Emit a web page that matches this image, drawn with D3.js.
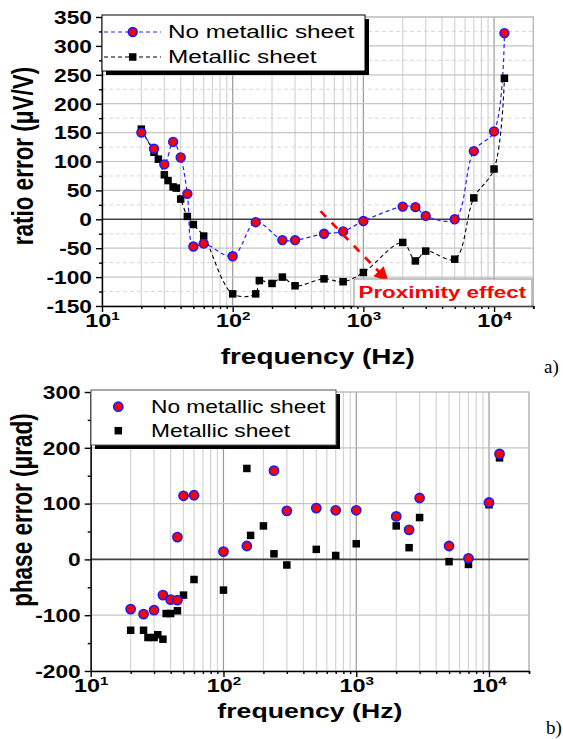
<!DOCTYPE html>
<html>
<head>
<meta charset="utf-8">
<script src="https://d3js.org/d3.v7.min.js"></script>
<style>
  body { margin: 0; background: #fff; }
  svg { display: block; font-family: "Liberation Sans", Arial, sans-serif; }
</style>
</head>
<body>
<div id="chart"></div>
<script>
// ---- data ----
// a) ratio error, µV/V
const freqRatioNo  = [20, 25, 30, 35, 40, 45, 50, 60, 100, 150, 240, 300, 500, 700, 1000, 2000, 2500, 3000, 5000, 7000, 10000, 12000];
const ratioNo      = [150, 122, 95, 134, 107, 44, -47, -42, -64, -5, -36, -36, -25, -21, -3, 22, 21, 6, 0, 118, 152, 322];
const freqRatioMet = [20, 25, 27, 30, 32, 35, 37, 40, 45, 50, 60, 100, 150, 160, 200, 240, 300, 500, 700, 1000, 2000, 2500, 3000, 5000, 7000, 10000, 12000];
const ratioMet     = [156, 116, 104, 77, 67, 56, 54, 35, 5, -9, -29, -129, -129, -106, -111, -100, -115, -103, -108, -92, -40, -72, -55, -69, 37, 87, 244];

// b) phase error, µrad
const freqPhaseNo  = [20, 25, 30, 35, 40, 45, 45, 50, 60, 100, 150, 240, 300, 500, 700, 1000, 2000, 2500, 3000, 5000, 7000, 10000, 12000];
const phaseNo      = [-89, -98, -91, -64, -72, -73, 40, 114, 115, 14, 24, 159, 87, 92, 88, 88, 77, 53, 110, 24, 2, 102, 189];
const freqPhaseMet = [20, 25, 27, 30, 32, 35, 37, 40, 45, 50, 60, 100, 150, 160, 200, 240, 300, 500, 700, 1000, 2000, 2500, 3000, 5000, 7000, 10000, 12000];
const phaseMet     = [-127, -127, -140, -140, -135, -143, -97, -97, -92, -64, -36, -55, 163, 43, 60, 10, -10, 18, 7, 28, 60, 21, 75, -4, -9, 98, 182];

const seriesNames = ["No metallic sheet", "Metallic sheet"];
const decades = [10, 100, 1000, 10000];
const ratioTicks = d3.range(-150, 351, 50);
const ratioMinor = d3.range(-125, 351, 50);
const phaseTicks = d3.range(-200, 301, 100);
const phaseMinor = d3.range(-150, 301, 100);
// arrow of the "Proximity effect" note, in data units (Hz, µV/V)
const arrowFrom = [470, 14];
const arrowTo = [1530, -106];

const W = 563, H = 739, SX = 1.3;   // picture is stretched horizontally

const svg = d3.select("#chart").append("svg")
    .attr("width", W).attr("height", H);

const defs = svg.append("defs");
defs.append("marker")
    .attr("id", "arrowRed")
    .attr("viewBox", "0 0 10 10")
    .attr("refX", 9).attr("refY", 5)
    .attr("markerWidth", 6).attr("markerHeight", 5.5)
    .attr("markerUnits", "strokeWidth")
    .attr("orient", "auto")
  .append("path")
    .attr("d", "M0,0 L10,5 L0,10 z")
    .attr("fill", "#ff0000");

// widen text around its anchor point
function stretch(sel, k) {
    sel.each(function() {
        const x = +(this.getAttribute("x") || 0);
        d3.select(this).attr("transform", `translate(${x},0) scale(${k},1) translate(${-x},0)`);
    });
}

const minorFreqs = [];
decades.forEach(d => {
    for (let k = 1; k <= 9; k++) if (k * d <= 20000) minorFreqs.push(k * d);
});
minorFreqs.push(20000);

function drawPanel(o) {
    const x = d3.scaleLog().domain([10, 20000]).range([o.left, o.right]);
    const y = d3.scaleLinear().domain(o.yDomain).range([o.bottom, o.top]);
    const g = svg.append("g");

    // vertical grid
    g.append("g").selectAll("line")
        .data(minorFreqs)
        .join("line")
        .attr("x1", d => x(d)).attr("x2", d => x(d))
        .attr("y1", o.top).attr("y2", o.bottom)
        .attr("stroke", d => decades.includes(d) ? "#9a9a9a" : "#d4d4d4")
        .attr("stroke-width", 1.2);

    // horizontal minor grid (dashed)
    if (o.minorGrid) {
        g.append("g").selectAll("line")
            .data(o.yMinor)
            .join("line")
            .attr("x1", o.left).attr("x2", o.right)
            .attr("y1", d => y(d)).attr("y2", d => y(d))
            .attr("stroke", "#d8d8d8")
            .attr("stroke-dasharray", "4,3");
    }
    // horizontal major grid
    g.append("g").selectAll("line")
        .data(o.yTicks.filter(d => d !== 0))
        .join("line")
        .attr("x1", o.left).attr("x2", o.right)
        .attr("y1", d => y(d)).attr("y2", d => y(d))
        .attr("stroke", "#c4c4c4")
        .attr("stroke-width", 1.2);

    // zero line
    g.append("line")
        .attr("x1", o.left).attr("x2", o.right)
        .attr("y1", y(0)).attr("y2", y(0))
        .attr("stroke", "#404040").attr("stroke-width", 1.6);

    // frame (top/right)
    g.append("path")
        .attr("d", `M${o.left},${o.top}H${o.right}V${o.bottom}`)
        .attr("fill", "none").attr("stroke", "#b8b8b8").attr("stroke-width", 1.2);

    // axes
    const xMinor = g.append("g")
        .attr("transform", `translate(0,${o.bottom})`)
        .call(d3.axisBottom(x).tickValues(minorFreqs.filter(d => !decades.includes(d))).tickSize(3).tickSizeOuter(0).tickFormat(""));
    xMinor.select(".domain").remove();
    const xAxis = g.append("g")
        .attr("transform", `translate(0,${o.bottom})`)
        .call(d3.axisBottom(x).tickValues(decades).tickSize(6).tickSizeOuter(0).tickPadding(5));
    xAxis.selectAll("text").each(function(d) {
        const t = d3.select(this).text("");
        t.append("tspan").text("10").attr("font-size", o.xTickSize);
        t.append("tspan").text(Math.round(Math.log10(d))).attr("font-size", o.xTickSize * 0.65).attr("dy", -o.xTickSize * 0.42);
    });

    const yMinorAxis = g.append("g")
        .attr("transform", `translate(${o.left},0)`)
        .call(d3.axisLeft(y).tickValues(o.yMinor).tickSize(3).tickSizeOuter(0).tickFormat(""));
    yMinorAxis.select(".domain").remove();
    const yAxis = g.append("g")
        .attr("transform", `translate(${o.left},0)`)
        .call(d3.axisLeft(y).tickValues(o.yTicks).tickSize(6).tickSizeOuter(0).tickPadding(4)
            .tickFormat(d => String(d)));

    g.selectAll(".tick line, .domain").attr("stroke", "#000").attr("stroke-width", 1.4);
    xAxis.selectAll("text").attr("font-weight", "bold").attr("fill", "#000")
        .attr("dy", o.xTickDy);
    yAxis.selectAll("text").attr("font-weight", "bold").attr("fill", "#000")
        .attr("font-size", o.yTickSize).attr("dy", "0.36em");
    xAxis.selectAll("text").call(stretch, SX);
    yAxis.selectAll("text").call(stretch, SX);

    // axis titles
    g.append("text")
        .attr("x", (o.left + o.right) / 2)
        .attr("y", o.xTitleY)
        .attr("text-anchor", "middle")
        .attr("font-weight", "bold")
        .attr("font-size", o.xTitleSize)
        .text("frequency (Hz)")
        .call(stretch, SX);

    g.append("g")
        .attr("transform", `translate(${o.yTitleX},${o.yTitleCY}) scale(${SX},1) rotate(-90)`)
      .append("text")
        .attr("text-anchor", "middle")
        .attr("font-weight", "bold")
        .attr("font-size", o.yTitleSize)
        .text(o.yTitle);

    return { x, y, g };
}

function drawCircles(g, x, y, fx, vy, r) {
    g.append("g").selectAll("circle")
        .data(fx.map((f, i) => [f, vy[i]]))
        .join("circle")
        .attr("cx", d => x(d[0])).attr("cy", d => y(d[1]))
        .attr("r", r)
        .attr("fill", "#ff0000").attr("stroke", "#1a1aff").attr("stroke-width", 1.6);
}
function drawSquares(g, x, y, fx, vy, s) {
    g.append("g").selectAll("rect")
        .data(fx.map((f, i) => [f, vy[i]]))
        .join("rect")
        .attr("x", d => x(d[0]) - s / 2).attr("y", d => y(d[1]) - s / 2)
        .attr("width", s).attr("height", s)
        .attr("fill", "#000");
}

// ---------- panel a ----------
const A = drawPanel({
    left: 102, right: 533.4, top: 17, bottom: 306,
    yDomain: [-150, 350], yTicks: ratioTicks, yMinor: ratioMinor, minorGrid: true,
    xTickSize: 18, xTickDy: "1.05em", yTickSize: 17.5,
    xTitleY: 364, xTitleSize: 21.5,
    yTitle: "ratio error (\u03bcV/V)", yTitleX: 33, yTitleCY: 156, yTitleSize: 22.5
});

const lineA = d3.line().x(d => A.x(d[0])).y(d => A.y(d[1])).curve(d3.curveCatmullRom.alpha(0.5));
A.g.append("path")
    .datum(freqRatioMet.map((f, i) => [f, ratioMet[i]]))
    .attr("d", lineA)
    .attr("fill", "none").attr("stroke", "#000").attr("stroke-width", 1.1)
    .attr("stroke-dasharray", "4,3");
A.g.append("path")
    .datum(freqRatioNo.map((f, i) => [f, ratioNo[i]]))
    .attr("d", lineA)
    .attr("fill", "none").attr("stroke", "#2222ff").attr("stroke-width", 1.2)
    .attr("stroke-dasharray", "4,3");
drawSquares(A.g, A.x, A.y, freqRatioMet, ratioMet, 7.5);
drawCircles(A.g, A.x, A.y, freqRatioNo, ratioNo, 4.4);

// proximity note
A.g.append("line")
    .attr("x1", A.x(arrowFrom[0])).attr("y1", A.y(arrowFrom[1]))
    .attr("x2", A.x(arrowTo[0])).attr("y2", A.y(arrowTo[1]))
    .attr("stroke", "#ff0000").attr("stroke-width", 2.6)
    .attr("stroke-dasharray", "8,8")
    .attr("marker-end", "url(#arrowRed)");
A.g.append("rect")
    .attr("x", 354).attr("y", 279).attr("width", 178).attr("height", 27)
    .attr("fill", "#fff").attr("stroke", "#8a8a8a").attr("stroke-width", 1);
A.g.append("text")
    .attr("x", 358.5).attr("y", 298.5)
    .attr("font-weight", "bold").attr("font-size", 17.2)
    .attr("fill", "#ff0000")
    .text("Proximity effect")
    .call(stretch, SX);

// legend a
const legA = svg.append("g");
legA.append("rect").attr("x", 106).attr("y", 19).attr("width", 263).attr("height", 56).attr("fill", "#000");
legA.append("rect").attr("x", 102).attr("y", 15).attr("width", 263).attr("height", 56)
    .attr("fill", "#fff").attr("stroke", "#000").attr("stroke-width", 1);
[["#2222ff", 32], ["#000", 57]].forEach(([c, yy], i) => {
    legA.append("line").attr("x1", 104).attr("x2", 161).attr("y1", yy).attr("y2", yy)
        .attr("stroke", c).attr("stroke-width", 1.2).attr("stroke-dasharray", "4,3");
    legA.append("text").attr("x", 168).attr("y", yy + 6.5)
        .attr("font-size", 18.7).attr("fill", "#000")
        .text(seriesNames[i]).call(stretch, SX);
});
legA.append("circle").attr("cx", 132.7).attr("cy", 32).attr("r", 4.4)
    .attr("fill", "#ff0000").attr("stroke", "#1a1aff").attr("stroke-width", 1.6);
legA.append("rect").attr("x", 132.7 - 3.75).attr("y", 57 - 3.75).attr("width", 7.5).attr("height", 7.5).attr("fill", "#000");

svg.append("text").attr("x", 544).attr("y", 373)
    .attr("font-family", "'Liberation Serif', 'Times New Roman', serif")
    .attr("font-size", 19).text("a)");

// ---------- panel b ----------
const B = drawPanel({
    left: 90.7, right: 529, top: 392, bottom: 671,
    yDomain: [-200, 300], yTicks: phaseTicks, yMinor: phaseMinor, minorGrid: false,
    xTickSize: 18, xTickDy: "1.05em", yTickSize: 17.5,
    xTitleY: 718, xTitleSize: 20.5,
    yTitle: "phase error (\u03bcrad)", yTitleX: 32, yTitleCY: 510, yTitleSize: 22.5
});
drawSquares(B.g, B.x, B.y, freqPhaseMet, phaseMet, 7.5);
drawCircles(B.g, B.x, B.y, freqPhaseNo, phaseNo, 4.6);

// legend b
const legB = svg.append("g");
legB.append("rect").attr("x", 95).attr("y", 394).attr("width", 245).attr("height", 55).attr("fill", "#000");
legB.append("rect").attr("x", 91).attr("y", 390).attr("width", 245).attr("height", 55)
    .attr("fill", "#fff").attr("stroke", "#555").attr("stroke-width", 1);
legB.append("circle").attr("cx", 118.3).attr("cy", 406.7).attr("r", 4.6)
    .attr("fill", "#ff0000").attr("stroke", "#1a1aff").attr("stroke-width", 1.6);
legB.append("rect").attr("x", 118.3 - 3.75).attr("y", 430.7 - 3.75).attr("width", 7.5).attr("height", 7.5).attr("fill", "#000");
[406.7, 430.7].forEach((yy, i) => {
    legB.append("text").attr("x", 151).attr("y", yy + 6.5)
        .attr("font-size", 17.5).attr("fill", "#000")
        .text(seriesNames[i]).call(stretch, SX);
});

svg.append("text").attr("x", 546).attr("y", 734)
    .attr("font-family", "'Liberation Serif', 'Times New Roman', serif")
    .attr("font-size", 19).text("b)");
</script>
</body>
</html>
